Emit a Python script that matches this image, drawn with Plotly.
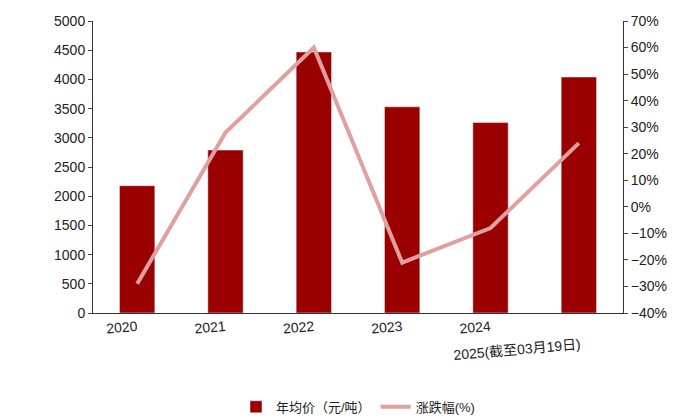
import plotly.graph_objects as go

years = ["2020", "2021", "2022", "2023", "2024", "<br>2025(截至03月19日)"]
price = [2180, 2790, 4470, 3530, 3260, 4040]
change = [-29, 28, 60, -21, -8, 24]

fig = go.Figure()
fig.add_bar(x=years, y=price, name="年均价（元/吨）", marker_color="#9B0000", width=0.4)
fig.add_scatter(x=years, y=change, name="涨跌幅(%)", yaxis="y2", mode="lines",
                line=dict(color="#E0A0A0", width=4))
fig.update_layout(
    width=700, height=420, plot_bgcolor="white", paper_bgcolor="white",
    font=dict(family="Liberation Sans, Noto Sans CJK SC", size=14, color="#222"),
    margin=dict(l=85, r=85, t=13, b=115, autoexpand=False),
    bargap=0.6,
    xaxis=dict(showline=True, linecolor="#333", tickangle=-5, ticks="", tickfont=dict(size=14)),
    yaxis=dict(range=[0, 5000], dtick=500, showline=True, linecolor="#333", ticks="outside",
               ticklen=4, showgrid=False, zeroline=False),
    yaxis2=dict(range=[-40, 70], dtick=10, overlaying="y", side="right", showline=True,
                linecolor="#333", ticks="outside", ticklen=4, ticksuffix="%", showgrid=False,
                zeroline=False),
    legend=dict(orientation="h", x=0.5, xanchor="center", y=-0.27, yanchor="top",
                font=dict(size=13)),
)
fig.write_html("out.html")
